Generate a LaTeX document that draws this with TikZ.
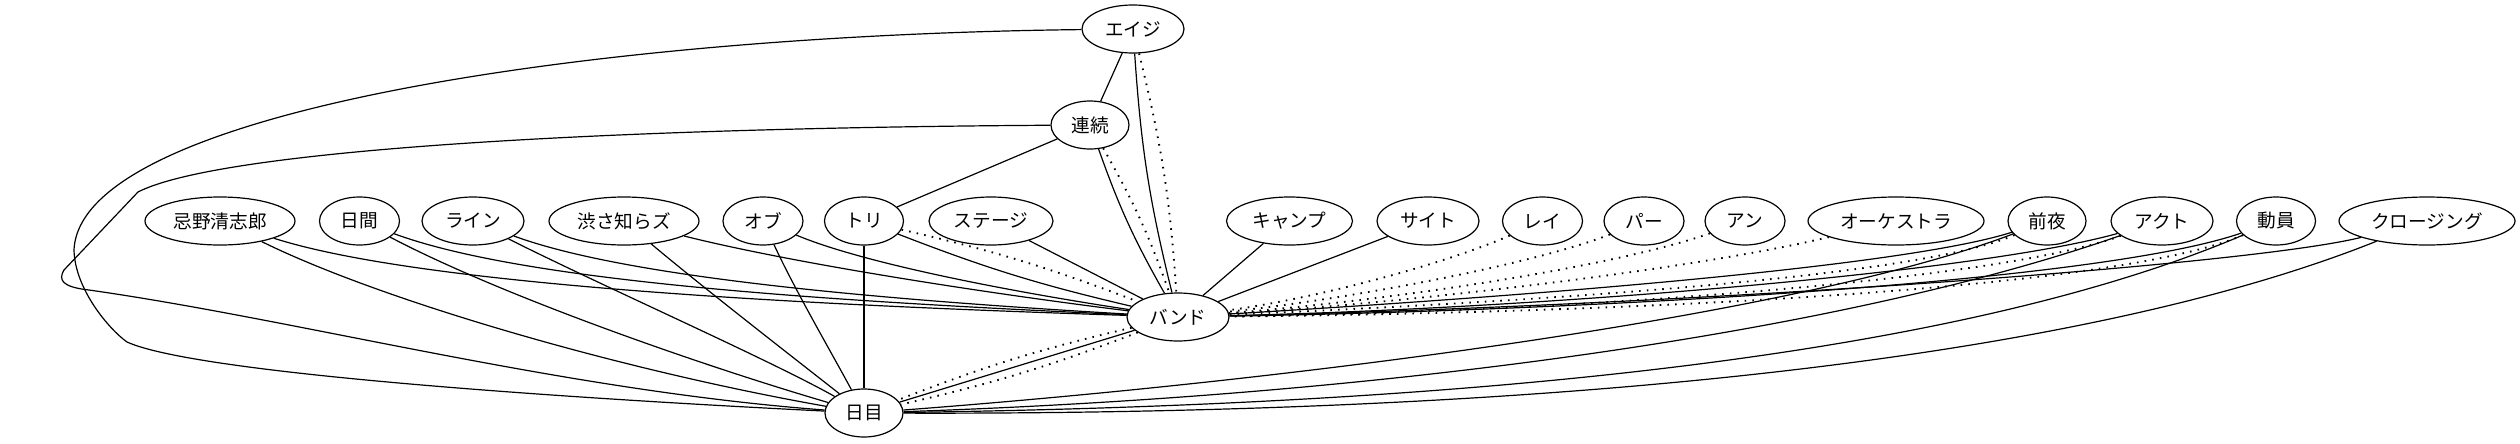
\documentclass[tikz,border=0pt]{standalone}
\usepackage{fontspec}
\setmainfont{Noto Sans CJK JP}
\usetikzlibrary{shapes.geometric}
\begin{document}
\begin{tikzpicture}[x=0.75pt,y=-0.75pt,
  nd/.style={ellipse,draw,line width=0.9pt,inner sep=0pt,minimum height=36pt,font=\fontsize{14}{16}\selectfont},
  ln/.style={line width=0.9pt},
  dt/.style={line width=1.4pt,dash pattern=on 1.2pt off 4.6pt}]
\useasboundingbox (0,0) rectangle (2520,443);
% nodes
\node[nd,minimum width=76.5pt]  (eiji)    at (1133,29)  {エイジ};
\node[nd,minimum width=58.5pt]  (renzoku) at (1090,125) {連続};
\node[nd,minimum width=112.5pt] (imawano) at (220,221)  {忌野清志郎};
\node[nd,minimum width=60pt]    (nichikan) at (359.5,221) {日間};
\node[nd,minimum width=76.5pt]  (rain)    at (473,221)  {ライン};
\node[nd,minimum width=112.5pt] (shibusa) at (624,221)  {渋さ知らズ};
\node[nd,minimum width=60pt]    (obu)     at (763,221)  {オブ};
\node[nd,minimum width=59.25pt] (tori)    at (864,221)  {トリ};
\node[nd,minimum width=93pt]    (stage)   at (991,221)  {ステージ};
\node[nd,minimum width=76.5pt]  (band)    at (1178,317) {バンド};
\node[nd,minimum width=94.5pt]  (camp)    at (1289.5,221) {キャンプ};
\node[nd,minimum width=76.5pt]  (site)    at (1428,221) {サイト};
\node[nd,minimum width=60pt]    (rei)     at (1542.5,221) {レイ};
\node[nd,minimum width=60pt]    (paa)     at (1644,221) {パー};
\node[nd,minimum width=60pt]    (an)      at (1745,221) {アン};
\node[nd,minimum width=132pt]   (orch)    at (1896,221) {オーケストラ};
\node[nd,minimum width=58.5pt]  (zenya)   at (2047,221) {前夜};
\node[nd,minimum width=76.5pt]  (act)     at (2162,221) {アクト};
\node[nd,minimum width=59.25pt] (doin)    at (2276,221) {動員};
\node[nd,minimum width=132pt]   (closing) at (2427,221) {クロージング};
\node[nd,minimum width=58.5pt]  (nichime) at (864,413)  {日目};
% top edges
\draw[ln] (eiji) -- (renzoku);
\draw[ln] (eiji) to[bend right=5] (band);
\draw[dt] (eiji) to[bend left=5] (band);
\draw[ln] (renzoku) to[bend right=5] (band);
\draw[dt] (renzoku) to[bend left=5] (band);
\draw[ln] (renzoku) -- (tori);
\draw[ln] (eiji) .. controls (600,35) and (80,110) .. (74,250)
  .. controls (75,290) and (110,330) .. (127,342)
  .. controls (200,375) and (600,400) .. (nichime);
\draw[ln] (renzoku) .. controls (600,128) and (220,150) .. (138,192) -- (64,270)
  .. controls (58,280) and (62,287) .. (89,290)
  .. controls (300,320) and (560,390) .. (nichime);
% left group
\draw[ln] (imawano) .. controls (420,285) and (800,305) .. (band);
\draw[ln] (imawano) .. controls (380,300) and (620,370) .. (nichime);
\draw[ln] (nichikan) .. controls (520,280) and (800,300) .. (band);
\draw[ln] (nichikan) .. controls (500,295) and (700,365) .. (nichime);
\draw[ln] (rain) .. controls (620,275) and (850,298) .. (band);
\draw[ln] (rain) .. controls (600,285) and (770,360) .. (nichime);
\draw[ln] (shibusa) .. controls (800,265) and (1000,295) .. (band);
\draw[ln] (shibusa) .. controls (700,285) and (790,355) .. (nichime);
\draw[ln] (obu) .. controls (860,262) and (1000,290) .. (band);
\draw[ln] (obu) .. controls (795,290) and (830,350) .. (nichime);
\draw[ln] (tori) -- (nichime);
\draw[ln] (tori) to[bend right=4] (band);
\draw[dt] (tori) to[bend left=4] (band);
\draw[ln] (stage) -- (band);
% band - nichime
\draw[ln] (band) -- (nichime);
\draw[dt] (band) to[bend left=4] (nichime);
\draw[dt] (band) to[bend right=4] (nichime);
% right group
\draw[ln] (camp) -- (band);
\draw[ln] (site) -- (band);
\draw[dt] (rei) .. controls (1450,262) and (1320,298) .. (band);
\draw[dt] (paa) .. controls (1540,262) and (1360,298) .. (band);
\draw[dt] (an) .. controls (1620,265) and (1400,300) .. (band);
\draw[dt] (orch) .. controls (1700,268) and (1420,302) .. (band);
\draw[ln] (zenya) .. controls (1900,268) and (1500,298) .. (band);
\draw[dt] (zenya) .. controls (1910,280) and (1500,303) .. (band);
\draw[ln] (zenya) .. controls (1800,315) and (1300,380) .. (nichime);
\draw[ln] (act) .. controls (1980,272) and (1550,308) .. (band);
\draw[dt] (act) .. controls (1990,283) and (1550,312) .. (band);
\draw[ln] (act) .. controls (1850,330) and (1400,395) .. (nichime);
\draw[ln] (doin) .. controls (2100,282) and (1600,310) .. (band);
\draw[dt] (doin) .. controls (2110,292) and (1600,313) .. (band);
\draw[ln] (doin) .. controls (1950,360) and (1450,405) .. (nichime);
\draw[ln] (closing) .. controls (2250,265) and (1700,305) .. (band);
\draw[ln] (closing) .. controls (2080,360) and (1550,415) .. (nichime);
\end{tikzpicture}
\end{document}
